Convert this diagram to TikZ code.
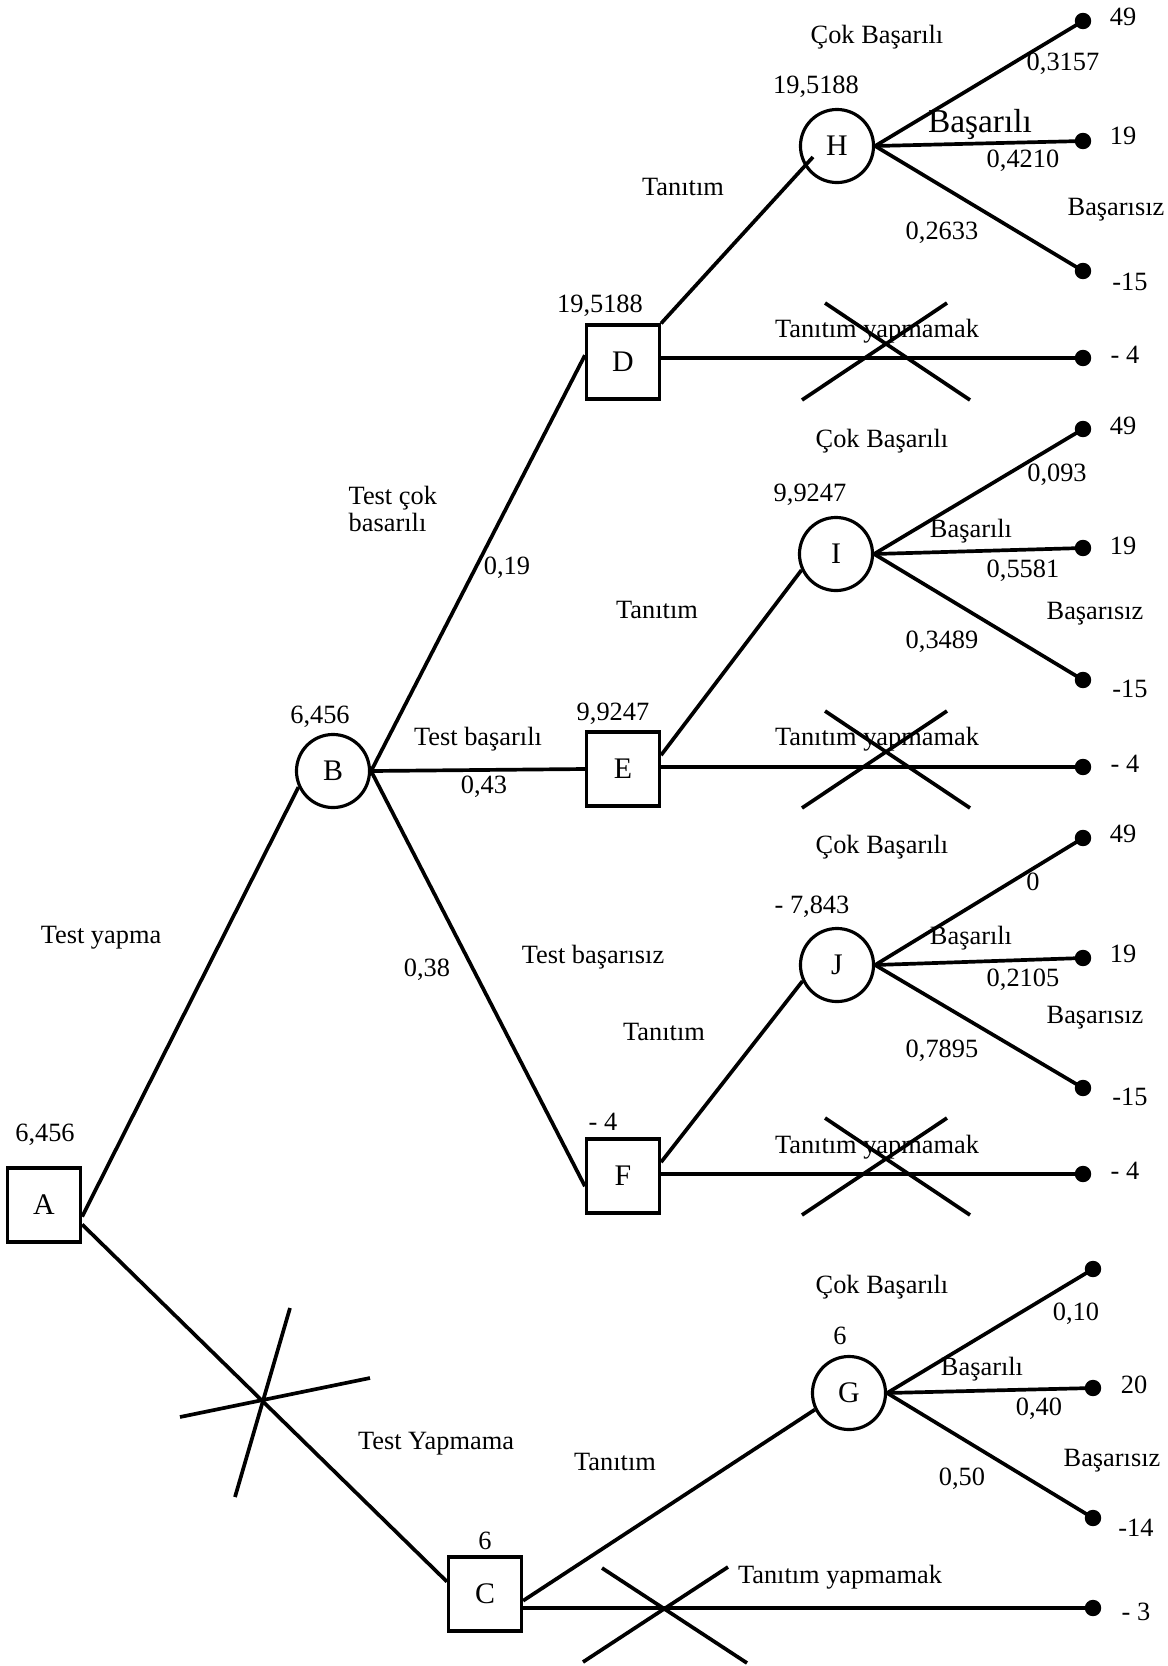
\documentclass[tikz,border=0pt]{standalone}
\usepackage{fontspec}
\setmainfont{Liberation Serif}

\tikzset{
  karar/.style={draw, line width=0.9pt, rectangle, minimum width=0.73cm, minimum height=0.74cm, inner sep=0pt, font=\fontsize{8.5}{10}\selectfont},
  sans/.style={draw, line width=0.9pt, circle, minimum size=0.73cm, inner sep=0pt, font=\fontsize{8.5}{10}\selectfont},
  etiket/.style={font=\fontsize{7.5}{9}\selectfont, inner sep=0pt},
  dal/.style={line width=1.05pt},
  carpi/.style={line width=1.05pt},
}

\begin{document}
\begin{tikzpicture}[x=0.01cm, y=-0.01cm]
  \useasboundingbox (0,0) rectangle (1168,1666);

  % Decision nodes
  \node[karar] (A) at (44,1205) {A};
  \node[karar] (C) at (485,1594) {C};
  \node[karar] (D) at (623,362) {D};
  \node[karar] (E) at (623,769) {E};
  \node[karar] (F) at (623,1176) {F};

  % Chance nodes
  \node[sans] (B) at (333,771) {B};
  \node[sans] (H) at (837,146) {H};
  \node[sans] (I) at (836,554) {I};
  \node[sans] (J) at (837,965) {J};
  \node[sans] (G) at (849,1393) {G};

  % End points
  \coordinate (tH1) at (1083,21);
  \coordinate (tH2) at (1083,141);
  \coordinate (tH3) at (1083,271);
  \coordinate (tD) at (1083,358);
  \coordinate (tI1) at (1083,429);
  \coordinate (tI2) at (1083,548);
  \coordinate (tI3) at (1083,680);
  \coordinate (tE) at (1083,767);
  \coordinate (tJ1) at (1083,838);
  \coordinate (tJ2) at (1083,958);
  \coordinate (tJ3) at (1083,1088);
  \coordinate (tF) at (1083,1174);
  \coordinate (tG1) at (1093,1269);
  \coordinate (tG2) at (1093,1388);
  \coordinate (tG3) at (1093,1518);
  \coordinate (tC) at (1093,1608);

  % Branches
  \draw[dal] (A.-17) -- (B.205);
  \draw[dal] (A.-27) -- (C.162);
  \draw[dal] (B.east) -- (D.170);
  \draw[dal] (B.east) -- (E.west);
  \draw[dal] (B.east) -- (F.195);
  \draw[dal] (D.north east) -- ([shift={(-24,11)}]H.center);
  \draw[dal] (D.east |- tD) -- (tD);
  \draw[dal] (E.20) -- (I.205);
  \draw[dal] (E.east |- tE) -- (tE);
  \draw[dal] (F.20) -- (J.205);
  \draw[dal] (F.east |- tF) -- (tF);
  \draw[dal] (C.-10) -- (G.206);
  \draw[dal] (C.east |- tC) -- (tC);

  \draw[dal] (H.east) -- (tH1);
  \draw[dal] (H.east) -- (tH2);
  \draw[dal] (H.east) -- (tH3);
  \draw[dal] (I.east) -- (tI1);
  \draw[dal] (I.east) -- (tI2);
  \draw[dal] (I.east) -- (tI3);
  \draw[dal] (J.east) -- (tJ1);
  \draw[dal] (J.east) -- (tJ2);
  \draw[dal] (J.east) -- (tJ3);
  \draw[dal] (G.east) -- (tG1);
  \draw[dal] (G.east) -- (tG2);
  \draw[dal] (G.east) -- (tG3);

  % Crossed out branches
  \draw[carpi] (180,1417) -- (370,1378);
  \draw[carpi] (290,1308) -- (235,1497);
  \draw[carpi] (825,303) -- (970,400);
  \draw[carpi] (947,303) -- (802,400);
  \draw[carpi] (825,711) -- (970,808);
  \draw[carpi] (947,711) -- (802,808);
  \draw[carpi] (825,1118) -- (970,1215);
  \draw[carpi] (947,1118) -- (802,1215);
  \draw[carpi] (602,1568) -- (747,1663);
  \draw[carpi] (728,1567) -- (583,1662);

  % Dots and payoffs
  \filldraw[black] (tH1) circle (0.075cm);
  \filldraw[black] (tH2) circle (0.075cm);
  \filldraw[black] (tH3) circle (0.075cm);
  \filldraw[black] (tD) circle (0.075cm);
  \filldraw[black] (tI1) circle (0.075cm);
  \filldraw[black] (tI2) circle (0.075cm);
  \filldraw[black] (tI3) circle (0.075cm);
  \filldraw[black] (tE) circle (0.075cm);
  \filldraw[black] (tJ1) circle (0.075cm);
  \filldraw[black] (tJ2) circle (0.075cm);
  \filldraw[black] (tJ3) circle (0.075cm);
  \filldraw[black] (tF) circle (0.075cm);
  \filldraw[black] (tG1) circle (0.075cm);
  \filldraw[black] (tG2) circle (0.075cm);
  \filldraw[black] (tG3) circle (0.075cm);
  \filldraw[black] (tC) circle (0.075cm);

  \node[etiket] (uH1) at (1123,17) {49};
  \node[etiket] (uH2) at (1123,136) {19};
  \node[etiket] (uH3) at (1130,282) {-15};
  \node[etiket] (uD) at (1125,355) {- 4};
  \node[etiket] (uI1) at (1123,426) {49};
  \node[etiket] (uI2) at (1123,546) {19};
  \node[etiket] (uI3) at (1130,689) {-15};
  \node[etiket] (uE) at (1125,764) {- 4};
  \node[etiket] (uJ1) at (1123,834) {49};
  \node[etiket] (uJ2) at (1123,954) {19};
  \node[etiket] (uJ3) at (1130,1097) {-15};
  \node[etiket] (uF) at (1125,1171) {- 4};
  \node[etiket] (uG2) at (1134,1385) {20};
  \node[etiket] (uG3) at (1136,1528) {-14};
  \node[etiket] (uC) at (1136,1612) {- 3};

  % Expected values
  \node[etiket] (vA) at (45,1135) {6,456};
  \node[etiket] (vB) at (320,717) {6,456};
  \node[etiket] (vD) at (600,306) {19,5188};
  \node[etiket] (vE) at (613,714) {9,9247};
  \node[etiket] (vF) at (603,1122) {- 4};
  \node[etiket] (vC) at (485,1541) {6};
  \node[etiket] (vH) at (816,87) {19,5188};
  \node[etiket] (vI) at (810,495) {9,9247};
  \node[etiket] (vJ) at (812,907) {- 7,843};
  \node[etiket] (vG) at (840,1336) {6};

  % Branch texts
  \node[etiket] (lAB) at (101,938) {Test yapma};
  \node[etiket] (lAC) at (436,1444) {Test Yapmama};
  \node[etiket, anchor=west, align=left, font=\fontsize{7.5}{7.8}\selectfont] (lBD) at (348,509) {Test çok\\basarılı};
  \node[etiket] (pBD) at (507,568) {0,19};
  \node[etiket] (lBE) at (478,739) {Test başarılı};
  \node[etiket] (pBE) at (484,787) {0,43};
  \node[etiket] (lBF) at (593,957) {Test başarısız};
  \node[etiket] (pBF) at (427,970) {0,38};

  \node[etiket] (lDH) at (683,187) {Tanıtım};
  \node[etiket] (lEI) at (657,610) {Tanıtım};
  \node[etiket] (lFJ) at (664,1032) {Tanıtım};
  \node[etiket] (lCG) at (615,1462) {Tanıtım};
  \node[etiket] (lD) at (877,331) {Tanıtım yapmamak};
  \node[etiket] (lE) at (877,739) {Tanıtım yapmamak};
  \node[etiket] (lF) at (877,1147) {Tanıtım yapmamak};
  \node[etiket] (lC) at (840,1577) {Tanıtım yapmamak};

  \node[etiket] (lH1) at (877,37) {Çok Başarılı};
  \node[etiket] (pH1) at (1063,64) {0,3157};
  \node[etiket, font=\fontsize{9.5}{11}\selectfont] (lH2) at (980,124) {Başarılı};
  \node[etiket] (pH2) at (1023,161) {0,4210};
  \node[etiket] (lH3) at (1116,210) {Başarısız};
  \node[etiket] (pH3) at (942,233) {0,2633};

  \node[etiket] (lI1) at (882,441) {Çok Başarılı};
  \node[etiket] (pI1) at (1057,475) {0,093};
  \node[etiket] (lI2) at (971,531) {Başarılı};
  \node[etiket] (pI2) at (1023,571) {0,5581};
  \node[etiket] (lI3) at (1095,614) {Başarısız};
  \node[etiket] (pI3) at (942,642) {0,3489};

  \node[etiket] (lJ1) at (882,847) {Çok Başarılı};
  \node[etiket] (pJ1) at (1033,882) {0};
  \node[etiket] (lJ2) at (971,938) {Başarılı};
  \node[etiket] (pJ2) at (1023,980) {0,2105};
  \node[etiket] (lJ3) at (1095,1018) {Başarısız};
  \node[etiket] (pJ3) at (942,1051) {0,7895};

  \node[etiket] (lG1) at (882,1287) {Çok Başarılı};
  \node[etiket] (pG1) at (1076,1314) {0,10};
  \node[etiket] (lG2) at (982,1369) {Başarılı};
  \node[etiket] (pG2) at (1039,1409) {0,40};
  \node[etiket] (lG3) at (1112,1461) {Başarısız};
  \node[etiket] (pG3) at (962,1479) {0,50};

\end{tikzpicture}
\end{document}
